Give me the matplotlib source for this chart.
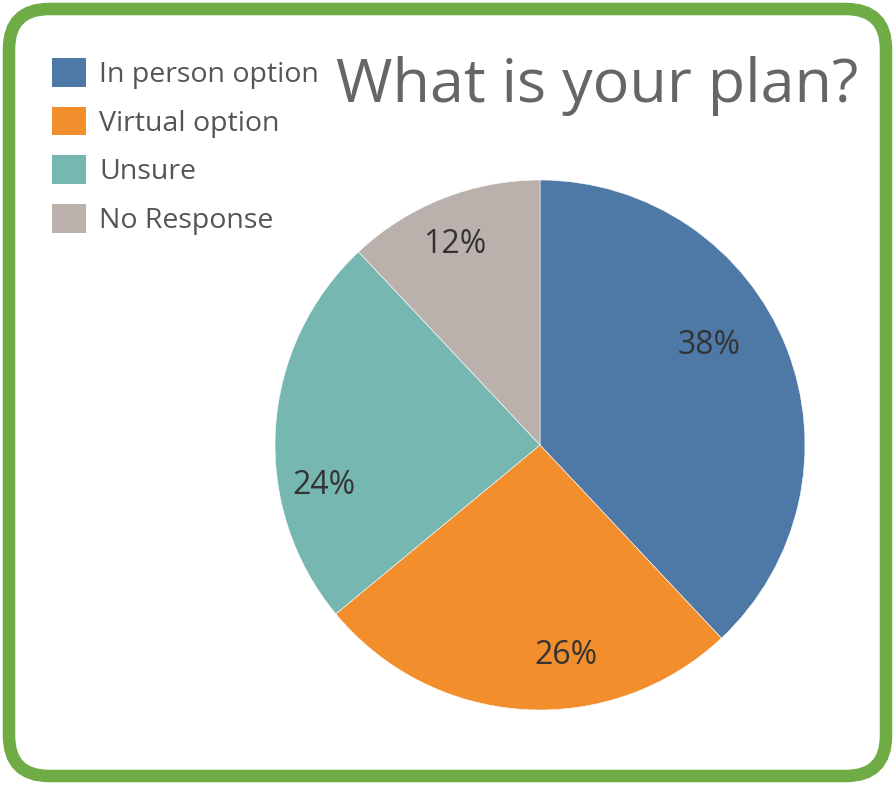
import numpy as np
import matplotlib.pyplot as plt
from matplotlib.patches import FancyBboxPatch, Patch

categories = ['In person option', 'Virtual option', 'Unsure', 'No Response']
shares = [38, 26, 24, 12]
colors = ['#4e79a7', '#f28e2b', '#76b7b2', '#bab0ac']
title = 'What is your plan?'

# where the percent labels sit: (angle in degrees, radius as fraction of pie radius)
label_pos = [(30.5, 0.74), (-83.0, 0.80), (190.5, 0.83), (113.0, 0.82)]

plt.rcParams['font.family'] = ['Open Sans', 'DejaVu Sans']

W, H = 895, 785
fig = plt.figure(figsize=(W / 100, H / 100), dpi=100)
fig.patch.set_facecolor('white')

# rounded green frame around the whole card
frame = FancyBboxPatch((9 / W, 9 / H), (W - 18) / W, (H - 18) / H,
                       boxstyle='round,pad=0,rounding_size=0.045',
                       transform=fig.transFigure, facecolor='none',
                       edgecolor='#6fac46', linewidth=9, mutation_aspect=W / H,
                       zorder=5)
fig.patches.append(frame)

# pie axes, center ~ (540, 445) px, radius ~265 px
cx, cy, r = 540, 445, 265
ax = fig.add_axes([(cx - r) / W, (H - cy - r) / H, 2 * r / W, 2 * r / H])
wedges, _ = ax.pie(shares, colors=colors, startangle=90, counterclock=False,
                   radius=1, wedgeprops=dict(edgecolor='white', linewidth=0.4))
ax.set_xlim(-1, 1)
ax.set_ylim(-1, 1)
ax.set_aspect('auto')
ax.axis('off')

for val, (ang, rad) in zip(shares, label_pos):
    a = np.deg2rad(ang)
    ax.text(rad * np.cos(a), rad * np.sin(a), f'{val}%', ha='center',
            va='center', fontsize=23, color='#333333')

fig.text(858 / W, 1 - 86 / H, title, ha='right', va='center',
         fontsize=44, color='#666666')

handles = [Patch(facecolor=c, edgecolor='none') for c in colors]
fig.legend(handles, categories, loc='upper left',
           bbox_to_anchor=(52 / W, 1 - 58 / H), frameon=False,
           fontsize=20.5, labelcolor='#555555', handlelength=1.18,
           handleheight=1.18, handletextpad=0.48, labelspacing=0.62,
           borderaxespad=0, borderpad=0)

plt.savefig('out.png', dpi=100)
